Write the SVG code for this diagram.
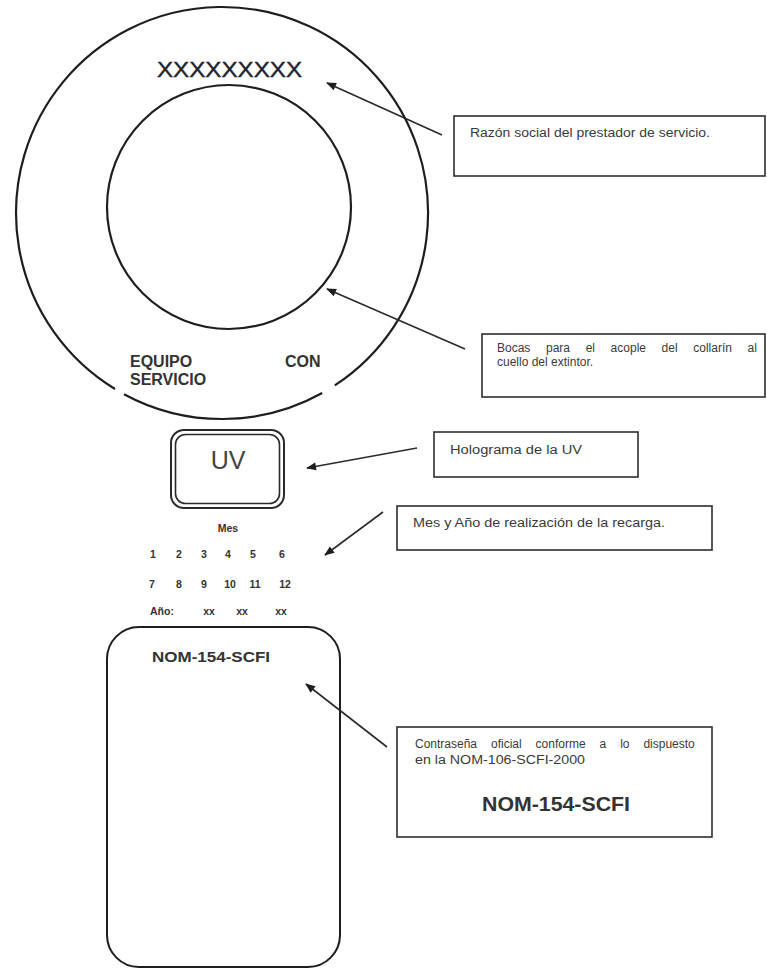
<svg xmlns="http://www.w3.org/2000/svg" width="767" height="979" viewBox="0 0 767 979">
<style>
.ring{fill:none;stroke:#1e1e1e;stroke-width:2.2}
.box{fill:#fff;stroke:#2e2e2e;stroke-width:1.6}
.note{font-family:"Liberation Sans",Arial,sans-serif;font-size:12px;fill:#3a3a3a}
.lbl{font-family:"Liberation Sans",Arial,sans-serif;font-weight:bold;fill:#333}
.cal{font-family:"Liberation Sans",Arial,sans-serif;font-weight:bold;font-size:10.5px;fill:#333}
.conn{stroke:#2a2a2a;stroke-width:1.6;fill:none;marker-end:url(#ah)}
</style>
<defs>
<marker id="ah" viewBox="0 0 10 10" refX="9" refY="5" markerWidth="11" markerHeight="10" markerUnits="userSpaceOnUse" orient="auto">
<path d="M0,1 L10,5 L0,9 z" fill="#1e1e1e"/>
</marker>
</defs>
<rect width="767" height="979" fill="#fff"/>

<g id="collar">
<path class="ring" d="M334.8,385.4 A206,206 0 1 0 115.0,389.0"/>
<path class="ring" d="M124,394.2 A206,206 0 0 0 322.2,393"/>
<circle class="ring" cx="229" cy="207" r="122"/>
<text x="157" y="77" font-family="'Liberation Sans',Arial,sans-serif" font-size="22" fill="#22222e" stroke="#22222e" stroke-width="0.4" textLength="145" lengthAdjust="spacingAndGlyphs">XXXXXXXXX</text>
<text class="lbl" x="130" y="367" font-size="16">EQUIPO</text>
<text class="lbl" x="130" y="385" font-size="16">SERVICIO</text>
<text class="lbl" x="285" y="367" font-size="16">CON</text>
</g>

<g id="uv">
<rect x="171" y="430" width="113" height="78" rx="13" fill="none" stroke="#2a2a2a" stroke-width="2"/>
<rect x="175.5" y="434.5" width="104" height="69" rx="10" fill="none" stroke="#2a2a2a" stroke-width="1.6"/>
<text x="228" y="469" text-anchor="middle" font-family="'Liberation Sans',Arial,sans-serif" font-size="25" fill="#444">UV</text>
</g>

<g id="calendario">
<text class="cal" x="228" y="532" text-anchor="middle">Mes</text>
<text class="cal" x="153" y="558" text-anchor="middle">1</text>
<text class="cal" x="179" y="558" text-anchor="middle">2</text>
<text class="cal" x="204" y="558" text-anchor="middle">3</text>
<text class="cal" x="228" y="558" text-anchor="middle">4</text>
<text class="cal" x="253" y="558" text-anchor="middle">5</text>
<text class="cal" x="282" y="558" text-anchor="middle">6</text>
<text class="cal" x="152" y="588" text-anchor="middle">7</text>
<text class="cal" x="179" y="588" text-anchor="middle">8</text>
<text class="cal" x="204" y="588" text-anchor="middle">9</text>
<text class="cal" x="230" y="588" text-anchor="middle">10</text>
<text class="cal" x="255" y="588" text-anchor="middle">11</text>
<text class="cal" x="285" y="588" text-anchor="middle">12</text>
<text class="cal" x="150" y="615">Año:</text>
<text class="cal" x="209" y="615" text-anchor="middle">xx</text>
<text class="cal" x="242" y="615" text-anchor="middle">xx</text>
<text class="cal" x="281" y="615" text-anchor="middle">xx</text>
</g>

<g id="contrasena">
<rect x="107" y="627" width="233" height="340" rx="32" fill="none" stroke="#1e1e1e" stroke-width="2"/>
<text class="lbl" x="152" y="662" font-size="15" textLength="118" lengthAdjust="spacingAndGlyphs">NOM-154-SCFI</text>
</g>

<g id="nota-razon">
<rect class="box" x="454" y="116" width="311" height="60"/>
<text class="note" x="470" y="137" textLength="240" lengthAdjust="spacingAndGlyphs">Razón social del prestador de servicio.</text>
</g>

<g id="nota-bocas">
<rect class="box" x="482" y="334" width="283" height="63"/>
<text class="note" x="497" y="352" word-spacing="12.3">Bocas para el acople del collarín al</text>
<text class="note" x="497" y="366">cuello del extintor.</text>
</g>

<g id="nota-holograma">
<rect class="box" x="434" y="432" width="204" height="45"/>
<text class="note" x="450" y="454" textLength="132" lengthAdjust="spacingAndGlyphs">Holograma de la  UV</text>
</g>

<g id="nota-mes">
<rect class="box" x="397" y="506" width="315" height="44"/>
<text class="note" x="413" y="527" textLength="252" lengthAdjust="spacingAndGlyphs">Mes y Año de realización de la recarga.</text>
</g>

<g id="nota-nom">
<rect class="box" x="397" y="727" width="315" height="110"/>
<text class="note" x="415" y="748" word-spacing="10.6">Contraseña oficial conforme a lo dispuesto</text>
<text class="note" x="415" y="764" textLength="170" lengthAdjust="spacingAndGlyphs">en la NOM-106-SCFI-2000</text>
<text class="lbl" x="556" y="811" font-size="20" text-anchor="middle" textLength="148" lengthAdjust="spacingAndGlyphs">NOM-154-SCFI</text>
</g>

<g id="connectors">
<line class="conn" x1="442" y1="135" x2="327" y2="83"/>
<line class="conn" x1="465" y1="349" x2="327" y2="289"/>
<line class="conn" x1="417" y1="448" x2="307" y2="468"/>
<line class="conn" x1="383" y1="512" x2="325" y2="555"/>
<line class="conn" x1="387" y1="747" x2="306" y2="684"/>
</g>
</svg>
